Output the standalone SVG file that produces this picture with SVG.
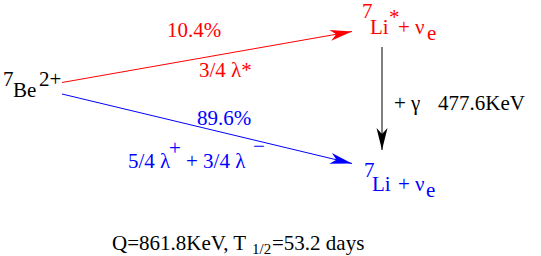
<svg xmlns="http://www.w3.org/2000/svg" width="541" height="256" viewBox="0 0 541 256">
<defs>
<marker id="ar" viewBox="-23 -7 24 14" markerWidth="24" markerHeight="14" refX="0" refY="0" markerUnits="userSpaceOnUse" orient="auto"><path d="M0,0 L-22,-5.5 L-16,0 L-22,5.5 Z" fill="#ff0000"/></marker>
<marker id="ab" viewBox="-23 -7 24 14" markerWidth="24" markerHeight="14" refX="0" refY="0" markerUnits="userSpaceOnUse" orient="auto"><path d="M0,0 L-22,-5.5 L-16,0 L-22,5.5 Z" fill="#0000ff"/></marker>
<marker id="ak" viewBox="-23 -7 24 14" markerWidth="24" markerHeight="14" refX="0" refY="0" markerUnits="userSpaceOnUse" orient="auto"><path d="M0,0 L-22,-5.5 L-16,0 L-22,5.5 Z" fill="#000000"/></marker>
</defs>
<rect width="541" height="256" fill="#ffffff"/>
<g id="connectors" fill="none" stroke-width="1">
<line x1="62" y1="82.5" x2="352" y2="31.5" stroke="#ff0000" marker-end="url(#ar)"/>
<line x1="62" y1="94" x2="352" y2="163.5" stroke="#0000ff" marker-end="url(#ab)"/>
<line x1="382" y1="47" x2="382" y2="150" stroke="#000000" marker-end="url(#ak)"/>
</g>
<g id="be7">
<text fill="#000000" font-family="serif" font-size="21"><tspan x="3" y="86">7</tspan><tspan x="13" y="97">Be</tspan><tspan x="39" y="86">2+</tspan></text>
</g>
<g id="li7star">
<text fill="#ff0000" font-family="serif" font-size="21"><tspan x="362" y="18">7</tspan><tspan x="370" y="34">Li</tspan><tspan x="389" y="24">*</tspan><tspan x="398" y="34">+ ν</tspan><tspan x="427" y="40">e</tspan></text>
</g>
<g id="li7">
<text fill="#0000ff" font-family="serif" font-size="21"><tspan x="364" y="177">7</tspan><tspan x="372" y="191">Li</tspan><tspan x="398" y="191">+ ν</tspan><tspan x="426" y="197">e</tspan></text>
</g>
<g id="label-red">
<text fill="#ff0000" font-family="serif" font-size="21" x="167" y="37">10.4%</text>
<text fill="#ff0000" font-family="serif" font-size="21" x="199" y="77">3/4 λ*</text>
</g>
<g id="label-blue">
<text fill="#0000ff" font-family="serif" font-size="21" x="197" y="125">89.6%</text>
<text fill="#0000ff" font-family="serif" font-size="21"><tspan x="128" y="168">5/4 λ</tspan><tspan x="169" y="155">+</tspan><tspan x="186" y="168">+ 3/4 λ</tspan><tspan x="253" y="153">−</tspan></text>
</g>
<g id="label-gamma">
<text fill="#000000" font-family="serif" font-size="21"><tspan x="394" y="110">+ γ</tspan><tspan x="438" y="110">477.6KeV</tspan></text>
</g>
<g id="summary">
<text fill="#000000" font-family="serif" font-size="21"><tspan x="112" y="250">Q=861.8KeV, T</tspan><tspan font-size="15" x="252" y="254">1/2</tspan><tspan x="272" y="250">=53.2 days</tspan></text>
</g>
</svg>
